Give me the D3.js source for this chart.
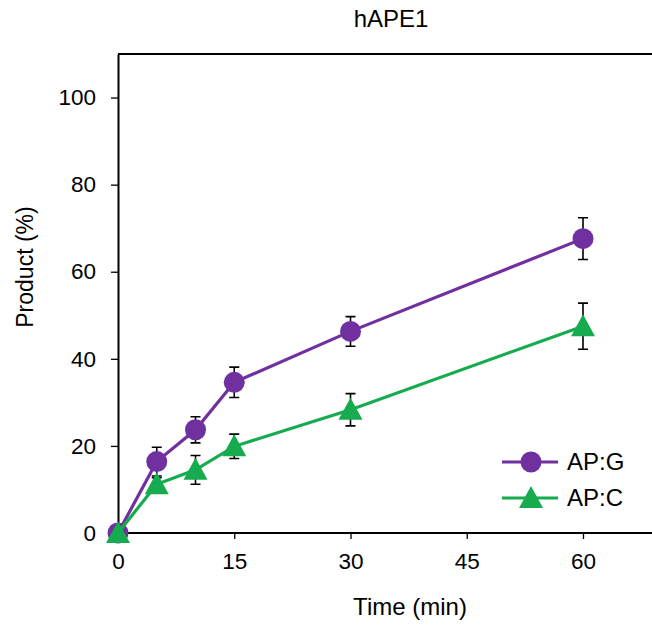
<!DOCTYPE html>
<html><head><meta charset="utf-8">
<script src="https://cdn.jsdelivr.net/npm/d3@7"></script>
<style>body{margin:0;background:#fff}svg{display:block;font-family:"Liberation Sans",Arial,sans-serif}</style>
</head><body><svg id="c" width="652" height="626"></svg>
<script>
const times = [0, 5, 10, 15, 30, 60];
const apG = [0, 16.4, 23.7, 34.6, 46.3, 67.6];
const apGErr = [0, 3.3, 3.0, 3.5, 3.4, 4.8];
const apC = [0, 11.2, 14.5, 19.9, 28.3, 47.5];
const apCErr = [0, 1.5, 3.3, 2.8, 3.7, 5.3];
const xTicks = [0, 15, 30, 45, 60];
const yTicks = [0, 20, 40, 60, 80, 100];
const seriesNames = ["AP:G", "AP:C"];
const colors = ["#7030a0", "#16ab4f"];

const svg = d3.select("#c");
const L = 118, T = 54, B = 533;
const x = d3.scaleLinear().domain([0, 70]).range([L, L + 70 * 7.75]);
const y = d3.scaleLinear().domain([0, 110]).range([B, T]);

svg.append("line").attr("x1", L).attr("x2", 652).attr("y1", T).attr("y2", T)
  .attr("stroke", "#000").attr("stroke-width", 2);

const xa = svg.append("g").attr("transform", `translate(0,${B})`)
  .call(d3.axisBottom(x).tickValues(xTicks).tickSize(6).tickPadding(10).tickSizeOuter(0));
const ya = svg.append("g").attr("transform", `translate(${L},0)`)
  .call(d3.axisLeft(y).tickValues(yTicks).tickSize(7).tickPadding(15).tickSizeOuter(0));
[xa, ya].forEach(a => {
  a.select(".domain").attr("stroke-width", 2);
  a.selectAll(".tick line").attr("stroke-width", 1.3);
  a.selectAll("text").attr("font-size", 22.5).attr("fill", "#000").attr("font-family", '"Liberation Sans",Arial,sans-serif');
});
xa.select(".domain").attr("d", `M${L},0H652`);
xa.selectAll("text").attr("dy", "0.71em").attr("y", 20);

const sets = [[apG, apGErr], [apC, apCErr]];
sets.forEach(([vals, errs], i) => {
  const g = svg.append("g");
  const pts = times.map((t, k) => [t, vals[k], errs[k]]);
  pts.forEach(p => {
    if (p[2] <= 0) return;
    const cx = x(p[0]), y1 = y(p[1] + p[2]), y2 = y(p[1] - p[2]);
    g.append("path").attr("d", `M${cx},${y1}V${y2}M${cx-5},${y1}H${cx+5}M${cx-5},${y2}H${cx+5}`)
      .attr("stroke", "#000").attr("stroke-width", 1.6).attr("fill", "none");
  });
  g.append("path").datum(pts)
    .attr("d", d3.line().x(p => x(p[0])).y(p => y(p[1])))
    .attr("stroke", colors[i]).attr("stroke-width", 3.2).attr("fill", "none");
  pts.forEach(p => {
    if (i === 0) g.append("circle").attr("cx", x(p[0])).attr("cy", y(p[1])).attr("r", 10.5).attr("fill", colors[i]);
    else g.append("path").attr("transform", `translate(${x(p[0])},${y(p[1])})`)
      .attr("d", "M0,-12L12,10L-12,10Z").attr("fill", colors[i]);
  });
});

const legY = [462, 498];
seriesNames.forEach((n, i) => {
  svg.append("line").attr("x1", 502).attr("x2", 558).attr("y1", legY[i]).attr("y2", legY[i])
    .attr("stroke", colors[i]).attr("stroke-width", 3.2);
  if (i === 0) svg.append("circle").attr("cx", 531).attr("cy", legY[i]).attr("r", 10.5).attr("fill", colors[i]);
  else svg.append("path").attr("transform", `translate(531,${legY[i]})`).attr("d", "M0,-12L12,10L-12,10Z").attr("fill", colors[i]);
  svg.append("text").attr("x", 567).attr("y", legY[i] + 8).attr("font-size", 24).text(n);
});

svg.append("text").attr("x", 391).attr("y", 27).attr("text-anchor", "middle").attr("font-size", 24).text("hAPE1");
svg.append("text").attr("x", 410).attr("y", 615).attr("text-anchor", "middle").attr("font-size", 24).text("Time (min)");
svg.append("text").attr("transform", "translate(33,267) rotate(-90)").attr("text-anchor", "middle").attr("font-size", 23).text("Product (%)");
</script></body></html>
